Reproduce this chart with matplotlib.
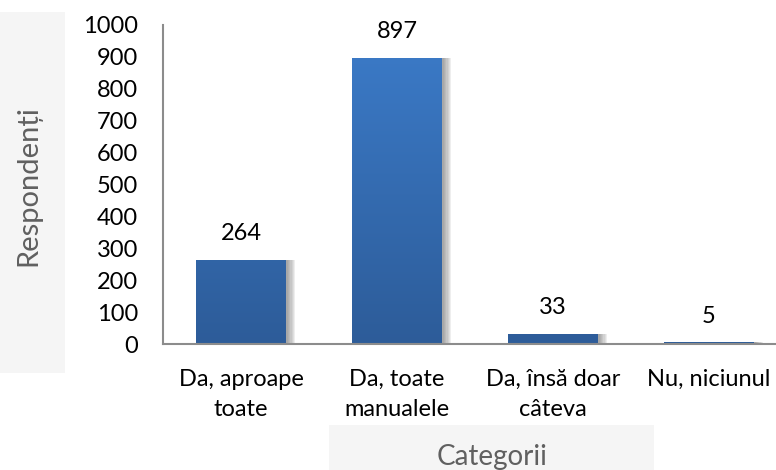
import numpy as np
import matplotlib
matplotlib.use("Agg")
import matplotlib.pyplot as plt
import matplotlib.transforms as mtransforms
from matplotlib.patches import Rectangle

categories = ["Da, aproape\ntoate", "Da, toate\nmanualele", "Da, însă doar\ncâteva", "Nu, niciunul"]
values = [264, 897, 33, 5]
yticks = [0, 100, 200, 300, 400, 500, 600, 700, 800, 900, 1000]

plt.rcParams['font.family'] = ['Lato', 'DejaVu Sans']

fig = plt.figure(figsize=(7.76, 4.70), dpi=100)
fig.patch.set_facecolor('white')

# gray panels behind axis titles
fig.patches.append(Rectangle((0, 0.206), 0.0838, 0.768, transform=fig.transFigure,
                             facecolor='#f5f5f5', edgecolor='none', zorder=0))
fig.patches.append(Rectangle((0.424, 0), 0.419, 0.0957, transform=fig.transFigure,
                             facecolor='#f5f5f5', edgecolor='none', zorder=0))

ax = fig.add_axes([0.210, 0.268, 0.804, 0.679])
ax.set_facecolor('none')

x = np.arange(len(categories))
width = 0.577
bars = ax.bar(x, values, width=width, color='#3571b5', zorder=3)

# soft shadow to the right of each bar
for k in range(7):
    off = mtransforms.ScaledTranslation((2 + k * 1.2) / 100, 0, fig.dpi_scale_trans)
    for b in bars:
        sh = Rectangle(b.get_xy(), b.get_width(), b.get_height(),
                       facecolor='#606060', edgecolor='none', alpha=0.1,
                       transform=ax.transData + off, zorder=2)
        ax.add_patch(sh)

# vertical gradient fill
grad = np.linspace(0, 1, 256).reshape(-1, 1)
cmap = matplotlib.colors.LinearSegmentedColormap.from_list('g', ['#2d5c99', '#3c7cca'])
for b in bars:
    x0, y0 = b.get_xy()
    im = ax.imshow(grad, cmap=cmap, aspect='auto', origin='lower',
                   extent=[x0, x0 + b.get_width(), 0, 1000], zorder=4)
    im.set_clip_path(b)

for b, v in zip(bars, values):
    ax.annotate(str(v), (b.get_x() + b.get_width() / 2, v), xytext=(0, 19),
                textcoords='offset points', ha='center', va='center',
                fontsize=17, color='black', zorder=5)

ax.set_xlim(-0.5, 3.5)
ax.set_ylim(0, 1000)
ax.set_yticks(yticks)
ax.set_xticks(x)
ax.set_xticklabels(categories, fontsize=17, linespacing=1.55)
ax.tick_params(axis='y', length=0, pad=18, labelsize=17)
ax.tick_params(axis='x', length=0, pad=18)

for s in ['top', 'right']:
    ax.spines[s].set_visible(False)
for s in ['left', 'bottom']:
    ax.spines[s].set_color('#8c8c8c')
    ax.spines[s].set_linewidth(1.5)
    ax.spines[s].set_zorder(6)

fig.text(0.036, 0.606, "Respondenți", rotation=90, ha='center', va='center',
         fontsize=21, color='#606060')
fig.text(0.634, 0.011, "Categorii", ha='center', va='baseline',
         fontsize=20, color='#606060')

fig.savefig('out.png', dpi=100)
